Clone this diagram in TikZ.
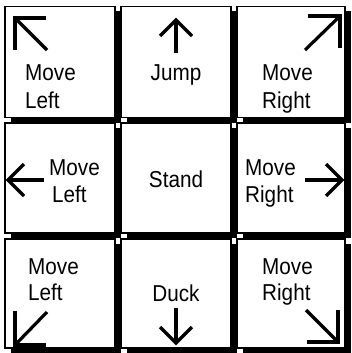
\documentclass[tikz,border=0pt]{standalone}
\usepackage{fontspec}
\setmainfont{Liberation Sans}
\newfontfamily\keyfont[FakeStretch=0.9]{Liberation Sans}
\usetikzlibrary{shadows}
\begin{document}
\begin{tikzpicture}[x=1pt,y=-1pt,
  key/.style={draw=black, line width=1.2pt, fill=white, inner sep=0pt,
    minimum width=110pt, minimum height=111pt,
    drop shadow={shadow xshift=6pt, shadow yshift=-5pt, fill=black, opacity=1}},
  lbl/.style={font=\keyfont\fontsize{23}{27}\selectfont, anchor=base west, inner sep=0pt},
  clbl/.style={lbl, anchor=base},
  arr/.style={line width=3.2pt, line cap=butt, line join=miter}]
\useasboundingbox (0,0) rectangle (351,353);
% keys
\node[key] (k11) at (60,62) {};
\node[key] (k21) at (176,62) {};
\node[key, minimum width=108pt] (k31) at (291,62) {};
\node[key, minimum height=110pt] (k12) at (60,178) {};
\node[key, minimum height=110pt] (k22) at (176,178) {};
\node[key, minimum width=108pt, minimum height=110pt] (k32) at (291,178) {};
\node[key, minimum height=109pt] (k13) at (60,293.5) {};
\node[key, minimum height=109pt] (k23) at (176,293.5) {};
\node[key, minimum width=108pt, minimum height=109pt] (k33) at (291,293.5) {};
% labels
\node[lbl] (tlA) at (25,81) {Move};
\node[lbl] (tlB) at (25,108) {Left};
\node[clbl] (jump) at (176,81) {Jump};
\node[lbl] (trA) at (262,81) {Move};
\node[lbl] (trB) at (262,108) {Right};
\node[lbl] (mlA) at (49,175) {Move};
\node[lbl] (mlB) at (52,202) {Left};
\node[clbl] (stand) at (176,187) {Stand};
\node[lbl] (mrA) at (245,175) {Move};
\node[lbl] (mrB) at (245,202) {Right};
\node[lbl] (blA) at (28,274) {Move};
\node[lbl] (blB) at (28,300) {Left};
\node[clbl] (duck) at (176,301) {Duck};
\node[lbl] (brA) at (262,274) {Move};
\node[lbl] (brB) at (262,300) {Right};
% diagonal arrows (corner heads)
\coordinate (tlC) at (15,18);
\draw[arr] (46,18) -- (tlC) -- (15,50);
\draw[arr] (tlC) -- (47,50);
\coordinate (trC) at (340,16);
\draw[arr] (308,16) -- (trC) -- (340,48);
\draw[arr] (trC) -- (305,50);
\coordinate (blC) at (15,345);
\draw[arr] (15,311) -- (blC) -- (46,345);
\draw[arr] (blC) -- (47,312);
\coordinate (brC) at (338,342);
\draw[arr] (338,310) -- (brC) -- (307,342);
\draw[arr] (brC) -- (306,310);
% straight arrows (chevron heads)
\coordinate (upT) at (176,20);
\draw[arr] (176,53) -- (upT);
\draw[arr] (160,36) -- (upT) -- (192,36);
\coordinate (dnT) at (176,343);
\draw[arr] (176,308) -- (dnT);
\draw[arr] (160,327) -- (dnT) -- (192,327);
\coordinate (lfT) at (8,180);
\draw[arr] (44,180) -- (lfT);
\draw[arr] (24,164) -- (lfT) -- (24,196);
\coordinate (rtT) at (342,180);
\draw[arr] (305,180) -- (rtT);
\draw[arr] (326,164) -- (rtT) -- (326,196);
\end{tikzpicture}
\end{document}
